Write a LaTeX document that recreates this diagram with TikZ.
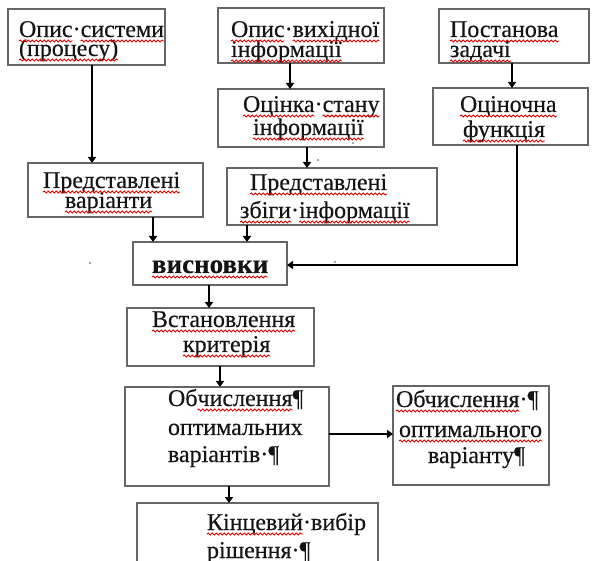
\documentclass[tikz,border=0pt]{standalone}
\usepackage{fontspec}
\setmainfont{Liberation Serif}[FakeBold=0.35]
\usetikzlibrary{arrows.meta,decorations.pathmorphing}
\newcommand\wv[1]{\draw[wave] ([yshift=-4pt]#1.base west) -- ([yshift=-4pt]#1.base east);}
\begin{document}
\begin{tikzpicture}[x=1pt,y=-1pt,
  box/.style={draw=black!60,line width=1.1pt,fill=none,inner sep=0,outer sep=0},
  txt/.style={anchor=base west,inner sep=0,outer sep=0,text=black!92,font=\fontsize{24}{24}\selectfont},
  wave/.style={draw=red!90!black,line width=0.9pt,decorate,decoration={snake,segment length=4pt,amplitude=1pt}},
  arr/.style={line width=2.2pt,-{Triangle[length=6pt,width=8pt]}},
  speck/.style={fill=black!70,draw=none}]
\clip (0,0) rectangle (592,561);
\fill[white] (0,0) rectangle (592,561);
% boxes
\node[box,minimum width=157,minimum height=56] (b1) at (86.5,37) {};
\node[box,minimum width=166,minimum height=55] (b2) at (301,35.5) {};
\node[box,minimum width=150,minimum height=54] (b3) at (514,36) {};
\node[box,minimum width=166,minimum height=58] (b4) at (301,118) {};
\node[box,minimum width=155,minimum height=57] (b5) at (510.5,116.5) {};
\node[box,minimum width=175,minimum height=54] (b6) at (115.5,190) {};
\node[box,minimum width=210,minimum height=57] (b7) at (332,196.5) {};
\node[box,minimum width=154,minimum height=43] (b8) at (210,263.5) {};
\node[box,minimum width=187,minimum height=58] (b9) at (220.5,337) {};
\node[box,minimum width=204,minimum height=99] (b10) at (227,436.5) {};
\node[box,minimum width=156,minimum height=99] (b11) at (471,435.5) {};
\node[box,minimum width=241,minimum height=90] (b12) at (257.5,548) {};
% texts
\node[txt] (t1a) at (19,37) {Опис};
\node[txt] (t1ad) at (t1a.base east) {·};
\node[txt] (t1ab) at (t1ad.base east) {системи};
\node[txt] (t1b) at (19,56) {(процесу)};
\node[txt] (t2a) at (231,37) {Опис};
\node[txt] (t2ad) at (t2a.base east) {·};
\node[txt] (t2ab) at (t2ad.base east) {вихідної};
\node[txt] (t2b) at (231,57) {інформації};
\node[txt] (t3a) at (450,37) {Постанова};
\node[txt] (t3b) at (450,57) {задачі};
\node[txt] (t4a) at (243,112) {Оцінка};
\node[txt] (t4ad) at (t4a.base east) {·};
\node[txt] (t4ab) at (t4ad.base east) {стану};
\node[txt] (t4b) at (253,135) {інформації};
\node[txt] (t5a) at (460,112) {Оціночна};
\node[txt] (t5b) at (463,137) {функція};
\node[txt] (t6a) at (43,188) {Представлені};
\node[txt] (t6b) at (65,208) {варіанти};
\node[txt] (t7a) at (250,190) {Представлені};
\node[txt] (t7b) at (240,218) {збіги};
\node[txt] (t7bd) at (t7b.base east) {·};
\node[txt] (t7bb) at (t7bd.base east) {інформації};
\node[txt,font=\fontsize{27}{27}\selectfont\bfseries] (t8) at (152,273) {висновки};
\node[txt] (t9a) at (152,327) {Встановлення};
\node[txt] (t9b) at (183,352) {критерія};
\node[txt] (t10a) at (168,406) {Об};
\node[txt] (t10ab) at (t10a.base east) {числення};
\node[txt] (t10ac) at (t10ab.base east) {¶};
\node[txt] (t10b) at (168,435) {оптимальних};
\node[txt] (t10c) at (168,462) {варіантів·¶};
\node[txt] (t11a) at (396,407) {Обчислення};
\node[txt] (t11ab) at (t11a.base east) {·¶};
\node[txt] (t11b) at (399,437) {оптимального};
\node[txt] (t11c) at (428,463) {варіанту¶};
\node[txt] (t12a) at (207,530) {Кінцевий};
\node[txt] (t12ab) at (t12a.base east) {·вибір};
\node[txt] (t12b) at (207,558) {рішення·¶};
% spell-check squiggles
\wv{t1a}\wv{t1ab}\wv{t1b}
\wv{t2a}\wv{t2ab}\wv{t2b}
\wv{t3a}\wv{t3b}
\wv{t4a}\wv{t4ab}\wv{t4b}
\wv{t5a}\wv{t5b}
\wv{t6a}\wv{t6b}
\wv{t7a}\wv{t7b}\wv{t7bb}
\wv{t8}
\wv{t9a}\wv{t9b}
\wv{t10ab}
\wv{t11a}\wv{t11b}
\wv{t12a}
% arrow columns
\coordinate (c1) at (92,0);
\coordinate (c2) at (290,0);
\coordinate (c3) at (512,0);
\coordinate (c4) at (307,0);
\coordinate (c5) at (517,0);
\coordinate (c6) at (153,0);
\coordinate (c7) at (247,0);
\coordinate (c8) at (209,0);
\coordinate (c9) at (220,0);
\coordinate (c10) at (229,0);
\coordinate (r1) at (0,434);
\coordinate (r2) at (0,265);
\coordinate (k5) at (517,265);
% arrows
\draw[arr] (c1 |- b1.south) -- (c1 |- b6.north);
\draw[arr] (c2 |- b2.south) -- (c2 |- b4.north);
\draw[arr] (c3 |- b3.south) -- (c3 |- b5.north);
\draw[arr] (c4 |- b4.south) -- (c4 |- b7.north);
\draw[arr] (c5 |- b5.south) -- (k5) -- (b8.east |- r2);
\draw[arr] (c6 |- b6.south) -- (c6 |- b8.north);
\draw[arr] (c7 |- b7.south) -- (c7 |- b8.north);
\draw[arr] (c8 |- b8.south) -- (c8 |- b9.north);
\draw[arr] (c9 |- b9.south) -- (c9 |- b10.north);
\draw[arr] (b10.east |- r1) -- (b11.west |- r1);
\draw[arr] (c10 |- b10.south) -- (c10 |- b12.north);
% specks
\fill[speck] (90,263) circle (0.9);
\fill[speck] (335,262) circle (0.9);
\fill[speck] (318,160) circle (0.9);
\fill[speck] (353,143) circle (0.9);
\fill[speck] (533,145) circle (0.9);
\end{tikzpicture}
\end{document}
